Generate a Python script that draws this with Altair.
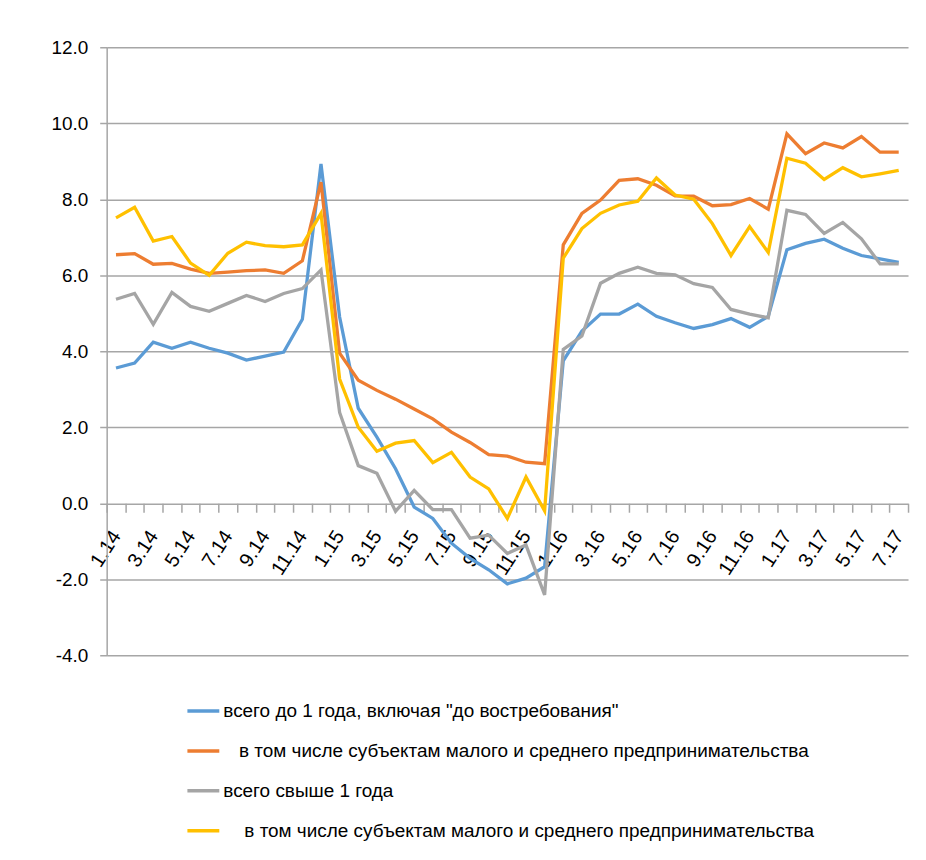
import altair as alt
import pandas as pd

periods = [f"{m}.{y}" for y in (14, 15, 16, 17) for m in range(1, 13)][:43]

ZW = "\u200b"
NB = "\u00a0"
series_names = [
    'всего до 1 года, включая "до востребования"',
    ZW + NB * 3 + "в том числе субъектам малого и среднего предпринимательства",
    "всего свыше 1 года",
    ZW + NB * 4 + "в том числе субъектам малого и среднего предпринимательства",
]
colors = ["#5B9BD5", "#ED7D31", "#A5A5A5", "#FFC000"]

blue = [3.56, 3.69, 4.24, 4.08, 4.24, 4.08, 3.95, 3.77, 3.87, 3.98, 4.84, 8.93,
        4.90, 2.50, 1.74, 0.91, -0.10, -0.40, -1.05, -1.45, -1.75, -2.12, -1.97, -1.67,
        3.75, 4.53, 4.98, 4.98, 5.24, 4.92, 4.75, 4.60, 4.70, 4.86, 4.63, 4.92,
        6.67, 6.84, 6.95, 6.71, 6.52, 6.43, 6.34]
orange = [6.54, 6.57, 6.29, 6.31, 6.16, 6.05, 6.08, 6.12, 6.14, 6.05, 6.38, 8.45,
          3.95, 3.24, 2.97, 2.74, 2.48, 2.22, 1.87, 1.60, 1.28, 1.24, 1.08, 1.04,
          6.80, 7.63, 7.98, 8.50, 8.54, 8.37, 8.09, 8.08, 7.83, 7.86, 8.02, 7.74,
          9.72, 9.20, 9.48, 9.35, 9.65, 9.24, 9.24]
gray = [5.37, 5.52, 4.71, 5.55, 5.18, 5.05, 5.26, 5.47, 5.31, 5.52, 5.65, 6.14,
        2.39, 0.99, 0.79, -0.21, 0.34, -0.17, -0.17, -0.92, -0.84, -1.32, -1.10, -2.41,
        4.05, 4.40, 5.79, 6.05, 6.21, 6.05, 6.01, 5.78, 5.68, 5.10, 4.98, 4.88,
        7.71, 7.60, 7.10, 7.39, 6.96, 6.30, 6.30]
yellow = [7.51, 7.79, 6.90, 7.02, 6.32, 6.00, 6.58, 6.87, 6.78, 6.75, 6.80, 7.63,
          3.27, 2.00, 1.37, 1.58, 1.65, 1.07, 1.34, 0.69, 0.38, -0.40, 0.69, -0.20,
          6.45, 7.23, 7.63, 7.85, 7.95, 8.56, 8.11, 8.00, 7.36, 6.52, 7.28, 6.60,
          9.08, 8.95, 8.52, 8.83, 8.59, 8.67, 8.76]

y_ticks = [-4, -2, 0, 2, 4, 6, 8, 10, 12]

rows = []
for name, vals in zip(series_names, [blue, orange, gray, yellow]):
    for i, (p, v) in enumerate(zip(periods, vals)):
        rows.append({"period": p, "value": v, "series": name, "order": i})
df = pd.DataFrame(rows)

FONT = "Liberation Sans"
GRID = "#a6a6a6"
W, H = 804, 610

chart = alt.Chart(df).mark_line(strokeWidth=3.3).encode(
    x=alt.X(
        "period:O",
        sort=periods,
        bandPosition=0.5,
        scale=alt.Scale(type="band", paddingInner=0, paddingOuter=0),
        axis=alt.Axis(
            title=None,
            offset=-H * 4 / 16,
            domain=False,
            grid=False,
            ticks=True,
            tickBand="extent",
            tickSize=9,
            tickColor=GRID,
            tickWidth=1.5,
            labelAngle=-57,
            labelAlign="right",
            labelBaseline="middle",
            labelPadding=20,
            labelFont=FONT,
            labelFontSize=20,
            labelColor="#000000",
            labelOverlap=False,
            labelExpr="toNumber(split(datum.label, '.')[0]) % 2 == 1 ? datum.label : ''",
        ),
    ),
    y=alt.Y(
        "value:Q",
        scale=alt.Scale(domain=[-4, 12], nice=False, zero=False),
        axis=alt.Axis(
            title=None,
            values=y_ticks,
            labelExpr="replace(format(datum.value, '.1f'), '−', '-')",
            grid=True,
            gridColor=GRID,
            gridWidth=1.5,
            domain=True,
            domainColor=GRID,
            domainWidth=1.5,
            tickSize=7,
            tickColor=GRID,
            tickWidth=1.5,
            labelPadding=12,
            labelFont=FONT,
            labelFontSize=19,
            labelColor="#000000",
        ),
    ),
    color=alt.Color(
        "series:N",
        sort=series_names,
        scale=alt.Scale(domain=series_names, range=colors),
        legend=alt.Legend(
            title=None,
            orient="none",
            legendX=79,
            legendY=648,
            direction="vertical",
            symbolType="stroke",
            symbolSize=1024,
            symbolStrokeWidth=3.5,
            labelFont=FONT,
            labelFontSize=19,
            labelColor="#000000",
            labelOffset=2,
            labelLimit=0,
            rowPadding=12,
        ),
    ),
    order="order:Q",
).properties(
    width=W,
    height=H,
    autosize=alt.AutoSizeParams(type="none"),
    padding={"left": 99, "top": 38, "right": 10, "bottom": 196},
).configure_view(stroke=None)

chart.save("out.html", embed_options={"renderer": "svg", "actions": False})
